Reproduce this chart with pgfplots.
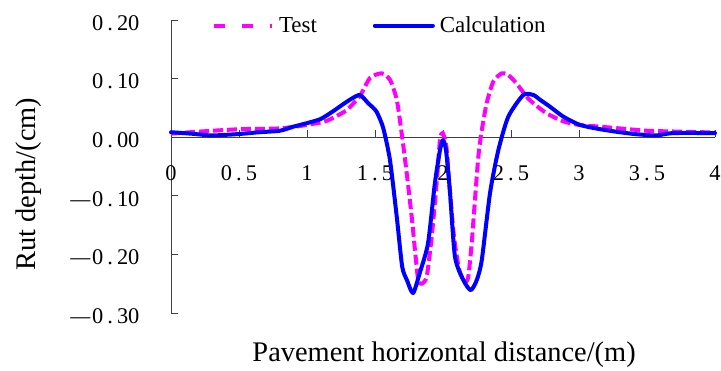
\documentclass[border=0pt]{standalone}
\usepackage{pgfplots}
\pgfplotsset{compat=1.18}
\usepackage{fontspec}
\setmainfont{Liberation Serif}
\usepackage{graphicx}

\definecolor{testc}{RGB}{255,0,255}
\definecolor{calcc}{RGB}{0,0,255}
\definecolor{axc}{RGB}{64,64,64}

% tick label helpers: wide period and long minus
\newcommand\dt{\kern4bp.\kern4bp}
\newcommand\mn{\scalebox{1.75}[1]{–}\kern2bp}

\begin{document}
\begin{tikzpicture}
\useasboundingbox (-171bp,-58bp) rectangle (550bp,313bp);
\begin{axis}[
  scale only axis,
  width=544bp, height=293bp,
  xmin=0, xmax=4, ymin=-0.3, ymax=0.2,
  axis x line=middle, axis y line=left,
  axis line style={-, axc, line width=0.8bp},
  tick style={axc, line width=0.8bp},
  tick align=inside,
  major tick length=7bp,
  hide obscured x ticks=false,
  xtick={0,0.5,1,1.5,2,2.5,3,3.5,4},
  xticklabels={0,0\dt5,1,1\dt5,2,2\dt5,3,3\dt5,4},
  ytick={-0.3,-0.2,-0.1,0,0.1,0.2},
  yticklabels={\mn0\dt30,\mn0\dt20,\mn0\dt10,0\dt00,0\dt10,0\dt20},
  ticklabel style={font=\fontsize{22.5}{24}\selectfont},
  xticklabel style={anchor=center, yshift=-36bp},
  yticklabel style={anchor=east, xshift=-28bp, yshift=-3bp},
  xlabel={Pavement horizontal distance/(m)},
  ylabel={Rut depth/(cm)},
  label style={font=\fontsize{28.5}{30}\selectfont},
  xlabel style={at={(axis description cs:0.502,-0.143)}, anchor=center},
  ylabel style={at={(axis description cs:-0.262,0.44)}, anchor=center, rotate=0},
  legend columns=2,
  legend style={at={(axis description cs:0.0754,0.9806)}, anchor=west,
    draw=none, fill=none, inner sep=0pt, outer sep=0pt,
    font=\fontsize{23}{24}\selectfont,
    /tikz/every even column/.append style={column sep=54bp}},
  legend image code/.code={\draw[#1] (0bp,0bp) -- (58bp,0bp); \path (61bp,0bp);},
  clip=false,
]
% measured test profile
\addplot[testc, line width=4bp, dash pattern=on 10bp off 4bp, smooth, tension=0.4, forget plot] coordinates {
(0,0.006)(0.21,0.0096)(0.51,0.0137)(0.8,0.015)(1.0,0.021)(1.145,0.028)(1.29,0.046)(1.39,0.071)
(1.463,0.101)(1.549,0.109)(1.61,0.098)(1.66,0.064)(1.696,0.007)(1.733,-0.061)(1.77,-0.136)
(1.794,-0.193)(1.818,-0.244)(1.843,-0.25)(1.88,-0.238)(1.917,-0.17)(1.953,-0.079)(1.978,-0.004)
(1.998,0.007)(2.025,-0.016)(2.05,-0.09)(2.081,-0.17)(2.12,-0.227)(2.162,-0.247)(2.186,-0.238)
(2.211,-0.181)(2.235,-0.107)(2.26,-0.033)(2.284,0.010)(2.321,0.058)(2.37,0.095)(2.432,0.109)
(2.48,0.106)(2.54,0.092)(2.615,0.069)(2.664,0.058)(2.76,0.041)(2.885,0.027)(3.0,0.021)
(3.154,0.018)(3.3,0.015)(3.5,0.011)(3.72,0.0096)(4.0,0.008)
};
\addlegendimage{testc, line width=4bp, dash pattern=on 10.5bp off 17.5bp}
\addlegendentry{Test}
% computed profile
\addplot[calcc, line width=4bp, line cap=round, line join=round, smooth, tension=0.4] coordinates {
(0,0.0085)(0.15,0.006)(0.29,0.003)(0.4,0.004)(0.51,0.0056)(0.65,0.0085)(0.8,0.011)(0.9,0.018)
(1.0,0.024)(1.1,0.031)(1.19,0.044)(1.27,0.057)(1.33,0.066)(1.39,0.072)(1.45,0.058)(1.51,0.044)
(1.56,0.016)(1.61,-0.039)(1.66,-0.136)(1.70,-0.221)(1.735,-0.244)(1.78,-0.266)(1.83,-0.231)
(1.89,-0.181)(1.94,-0.079)(1.978,-0.022)(2.0,-0.005)(2.022,-0.022)(2.05,-0.09)(2.088,-0.204)
(2.15,-0.244)(2.204,-0.261)(2.248,-0.244)(2.285,-0.21)(2.346,-0.095)(2.407,-0.022)(2.48,0.035)
(2.59,0.072)(2.664,0.072)(2.713,0.064)(2.787,0.052)(2.885,0.035)(3.007,0.021)(3.154,0.0137)
(3.3,0.0085)(3.424,0.005)(3.57,0.003)(3.69,0.007)(4.0,0.007)
};
\addlegendentry{Calculation}
\end{axis}
\end{tikzpicture}
\end{document}
